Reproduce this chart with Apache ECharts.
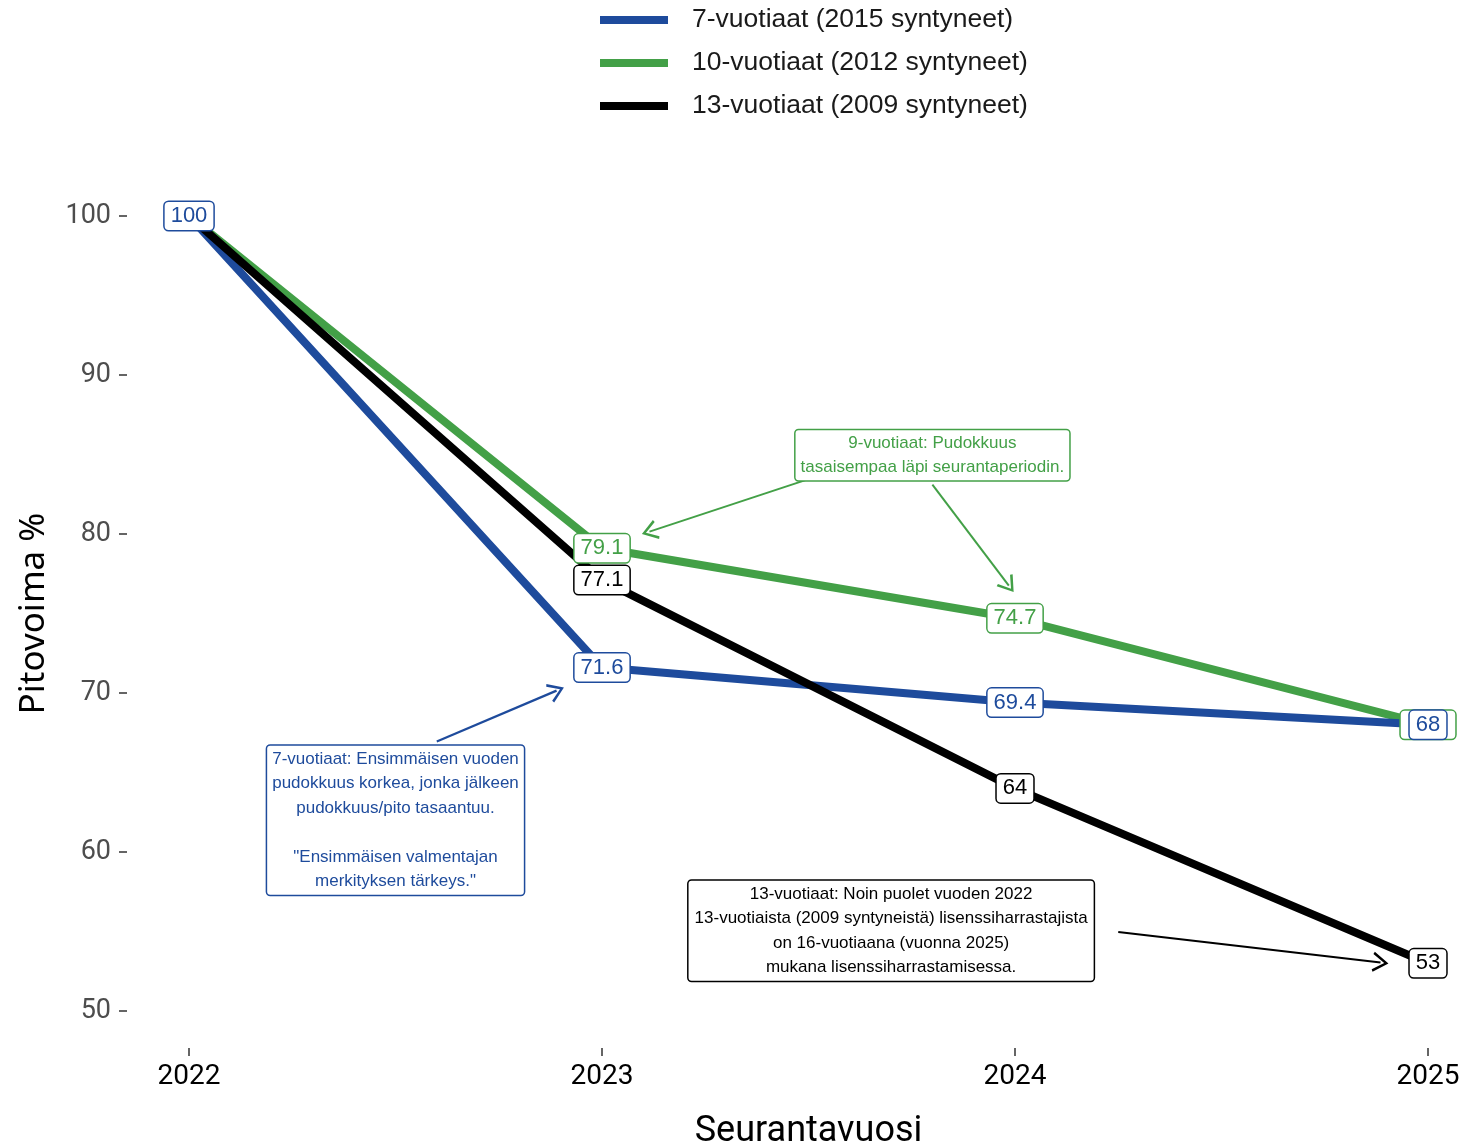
<!DOCTYPE html>
<html>
<head>
<meta charset="utf-8">
<script src="https://cdn.jsdelivr.net/npm/echarts@6/dist/echarts.min.js"></script>
<style>
  html, body { margin: 0; padding: 0; background: #fff; }
  #chart { width: 1468px; height: 1145px; }
</style>
</head>
<body>
<div id="chart"></div>
<script>
// seurantavuodet ja pitovoima %
const years = [2022, 2023, 2024, 2025]
const age7 = [100, 71.6, 69.4, 68]
const age10 = [100, 79.1, 74.7, 68]
const age13 = [100, 77.1, 64, 53]
const seriesNames = ['7-vuotiaat (2015 syntyneet)', '10-vuotiaat (2012 syntyneet)', '13-vuotiaat (2009 syntyneet)']
const yTicks = [50, 60, 70, 80, 90, 100]

// huomautukset (datakoordinaateissa)
const noteGreen = { at: [2023.80, 84.95], text: '9-vuotiaat: Pudokkuus\ntasaisempaa läpi seurantaperiodin.' }
const noteBlue = { at: [2022.50, 62.0], text: '7-vuotiaat: Ensimmäisen vuoden\npudokkuus korkea, jonka jälkeen\npudokkuus/pito tasaantuu.\n\n"Ensimmäisen valmentajan\nmerkityksen tärkeys."' }
const noteBlack = { at: [2023.70, 55.05], text: '13-vuotiaat: Noin puolet vuoden 2022\n13-vuotiaista (2009 syntyneistä) lisenssiharrastajista\non 16-vuotiaana (vuonna 2025)\nmukana lisenssiharrastamisessa.' }
const arrowsGreen = [[[2023.50, 83.45], [2023.115, 80.15]], [[2023.80, 83.1], [2023.985, 76.75]]]
const arrowsBlue = [[[2022.60, 66.95], [2022.89, 70.15]]]
const arrowsBlack = [[[2024.25, 54.97], [2024.885, 53.05]]]

const BLUE = '#1e4b9c'
const GREEN = '#43a047'
const BLACK = '#000000'
const chevron = 'path://M0,18 L10,0 L20,18 L17.6,19.4 L10,5.2 L2.4,19.4 Z'

const chart = echarts.init(document.getElementById('chart'))

function toPoints(values) {
  return years.map((y, i) => [y, values[i]])
}

// arvolaatikot omana sarjanaan, jotta ne piirtyvät kaikkien viivojen päälle
function labelSeries(values, color, z, hideFirst, widePad) {
  return {
    type: 'scatter',
    z: z,
    silent: true,
    symbol: 'circle',
    symbolSize: 1,
    itemStyle: { color: 'rgba(0,0,0,0)', opacity: 1 },
    label: {
      show: true,
      position: 'inside',
      formatter: p => String(p.value[1]),
      color: color,
      fontSize: 22,
      fontFamily: 'Liberation Sans',
      backgroundColor: '#fff',
      borderColor: color,
      borderWidth: 1.5,
      borderRadius: 4,
      padding: [4, 6, 2, 6]
    },
    data: years.map((y, i) => {
      const item = { value: [y, values[i]] }
      if (hideFirst && i === 0) item.label = { show: false }
      if (widePad && i === years.length - 1) item.label = { padding: [4, 15, 2, 15] }
      return item
    })
  }
}

function arrows(list, color, width) {
  return {
    silent: true,
    symbol: ['none', chevron],
    symbolSize: [20, 16],
    label: { show: false },
    lineStyle: { color: color, width: width, type: 'solid' },
    emphasis: { disabled: true },
    data: list.map(a => [{ coord: a[0] }, { coord: a[1] }])
  }
}

function note(n, color, size, lh, pad) {
  return {
    silent: true,
    symbol: 'circle',
    symbolSize: 1,
    itemStyle: { color: 'rgba(0,0,0,0)', opacity: 1 },
    label: {
      show: true,
      position: 'inside',
      formatter: n.text,
      color: color,
      fontSize: size,
      fontFamily: 'Liberation Sans',
      lineHeight: lh,
      align: 'center',
      backgroundColor: '#fff',
      borderColor: color,
      borderWidth: 1.5,
      borderRadius: 3,
      padding: pad
    },
    data: [{ coord: n.at }]
  }
}

function lineSeries(name, values, color, z) {
  return {
    name: name,
    type: 'line',
    z: z,
    data: toPoints(values),
    showSymbol: false,
    symbol: 'none',
    itemStyle: { color: color },
    lineStyle: { color: color, width: 8 }
  }
}

const green = lineSeries(seriesNames[1], age10, GREEN, 2)
green.markLine = arrows(arrowsGreen, GREEN, 2)
green.markPoint = note(noteGreen, GREEN, 17, 24, [1, 5, 1, 5])
const blue = lineSeries(seriesNames[0], age7, BLUE, 3)
blue.markLine = arrows(arrowsBlue, BLUE, 2.2)
blue.markPoint = note(noteBlue, BLUE, 17, 24.5, [1, 5, 1, 5])
const black = lineSeries(seriesNames[2], age13, BLACK, 4)
black.markLine = arrows(arrowsBlack, BLACK, 2.2)
black.markPoint = note(noteBlack, BLACK, 17, 24.5, [1, 6, 1, 6])

const option = {
  animation: false,
  backgroundColor: '#fff',
  legend: {
    orient: 'vertical',
    left: 595,
    top: 0,
    itemWidth: 68,
    itemHeight: 8,
    itemGap: 13,
    icon: 'rect',
    data: seriesNames,
    textStyle: { fontSize: 26.5, lineHeight: 30, color: '#1a1a1a', fontFamily: 'Liberation Sans', padding: [0, 0, 0, 19] }
  },
  grid: { left: 189, right: 40, top: 216, bottom: 134, outerBoundsMode: 'none', containLabel: false },
  xAxis: {
    type: 'value',
    min: 2022,
    max: 2025,
    interval: 1,
    offset: 37,
    name: 'Seurantavuosi',
    nameLocation: 'middle',
    nameGap: 66,
    nameTextStyle: { fontSize: 36, color: '#000', fontFamily: 'Roboto' },
    axisLine: { show: false },
    axisTick: { show: true, length: 8, lineStyle: { color: '#333', width: 1.5 } },
    axisLabel: { formatter: v => String(v), fontSize: 28, color: '#000', margin: 15, fontFamily: 'Roboto' },
    splitLine: { show: false }
  },
  yAxis: {
    type: 'value',
    min: yTicks[0],
    max: yTicks[yTicks.length - 1],
    interval: 10,
    offset: 62,
    name: 'Pitovoima %',
    nameLocation: 'middle',
    nameRotate: 90,
    nameGap: 75,
    nameTextStyle: { fontSize: 35, color: '#000', fontFamily: 'Noto Sans' },
    axisLine: { show: false },
    axisTick: { show: true, length: 8, lineStyle: { color: '#333', width: 1.5 } },
    axisLabel: { fontSize: 27, color: '#4d4d4d', margin: 16, fontFamily: 'Roboto' },
    splitLine: { show: false }
  },
  series: [
    green,
    blue,
    black,
    labelSeries(age10, GREEN, 10, true, true),
    labelSeries(age7, BLUE, 11, false, false),
    labelSeries(age13, BLACK, 12, true, false)
  ]
}

chart.setOption(option)
</script>
</body>
</html>
